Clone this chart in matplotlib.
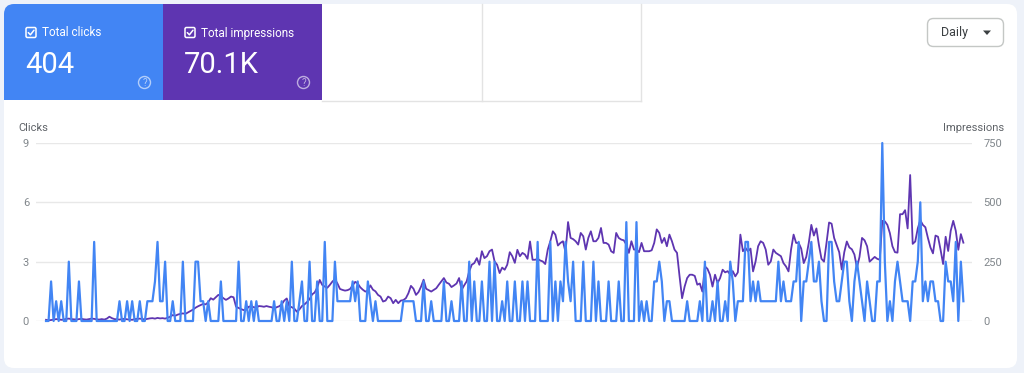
import numpy as np
import matplotlib.pyplot as plt
from matplotlib.patches import FancyBboxPatch, Rectangle, Circle, Polygon

plt.rcParams['font.family'] = ['Roboto', 'DejaVu Sans']

# daily clicks (about one year, oldest first)
clicks_q1 = [0, 0, 2, 0, 1, 0, 1, 0, 0, 3, 0, 0, 0, 2, 0, 0, 0, 0, 0, 4,
             0, 0, 0, 0, 0, 0, 0, 0, 0, 1, 0, 0, 1, 0, 1, 0, 0, 1, 0, 0,
             1, 1, 1, 2, 4, 1, 1, 3, 0, 0, 1, 0, 0, 0, 3, 0, 0, 0, 0, 3,
             3, 1, 1, 0, 1, 0, 0, 0, 0, 2, 0, 0, 0, 0, 0, 0, 3, 0, 0, 1,
             0, 1, 0, 1, 0, 0, 0, 0, 0, 0, 1, 0, 0, 1, 0, 1, 0, 3, 0, 0]
clicks_q2 = [1, 2, 0, 0, 3, 0, 0, 2, 0, 0, 4, 0, 0, 0, 3, 1, 1, 1, 1, 1,
             1, 2, 1, 2, 0, 0, 0, 2, 1, 0, 1, 0, 0, 0, 0, 0, 0, 0, 0, 0,
             0, 1, 1, 1, 1, 1, 0, 0, 0, 2, 0, 0, 1, 0, 0, 0, 0, 2, 0, 0,
             1, 0, 0, 0, 2, 0, 0, 3, 0, 2, 0, 0, 2, 0, 0, 3, 0, 3, 0, 0,
             1, 0, 2, 0, 0, 2, 0, 0, 2, 0, 2, 0, 0, 0, 4, 0, 0, 0, 0, 4]
clicks_q3 = [0, 2, 0, 2, 1, 4, 2, 1, 3, 0, 0, 0, 3, 0, 0, 0, 3, 0, 2, 0,
             0, 0, 2, 0, 0, 0, 2, 0, 0, 5, 0, 0, 0, 5, 0, 1, 0, 1, 0, 0,
             2, 2, 3, 2, 0, 1, 1, 0, 0, 0, 0, 0, 0, 1, 0, 0, 0, 0, 1, 0,
             3, 0, 0, 1, 0, 2, 0, 0, 1, 0, 3, 2, 0, 1, 1, 1, 4, 4, 1, 2,
             1, 2, 1, 1, 1, 1, 1, 1, 1, 3, 1, 2, 1, 1, 1, 2, 2, 4, 0, 2]
clicks_q4 = [2, 3, 4, 2, 2, 3, 1, 0, 0, 4, 4, 2, 1, 1, 2, 3, 3, 1, 0, 2,
             3, 2, 1, 0, 2, 1, 0, 0, 2, 2, 9, 3, 0, 1, 0, 2, 3, 2, 1, 1,
             1, 0, 2, 2, 3, 6, 1, 2, 1, 2, 2, 1, 1, 0, 0, 3, 2, 2, 1, 4,
             0, 3, 1]

# daily impressions, same days
impressions_q1 = [5, 3, 4, 6, 8, 7, 5, 6, 9, 10, 8, 7, 6, 8, 9, 7, 6, 8, 10, 9,
                  7, 6, 8, 6, 10, 18, 12, 8, 7, 6, 8, 9, 7, 6, 5, 8, 9, 10, 8, 7,
                  9, 11, 12, 10, 13, 11, 12, 10, 14, 18, 25, 22, 27, 30, 32, 30, 36, 42, 48, 56,
                  62, 67, 72, 70, 79, 96, 90, 100, 110, 105, 96, 89, 95, 103, 100, 60, 55, 50, 46, 48,
                  60, 62, 58, 56, 63, 62, 60, 63, 60, 58, 52, 58, 62, 70, 86, 95, 62, 58, 52, 39]
impressions_q2 = [49, 63, 70, 80, 92, 112, 120, 140, 173, 152, 145, 140, 152, 166, 176, 158, 135, 131, 128, 130,
                  135, 150, 165, 158, 142, 132, 124, 128, 150, 132, 125, 110, 103, 82, 86, 103, 96, 75, 89, 75,
                  86, 88, 96, 117, 148, 136, 110, 122, 145, 174, 136, 130, 124, 131, 138, 153, 167, 181, 162, 157,
                  143, 150, 158, 181, 131, 150, 167, 209, 237, 244, 265, 237, 294, 265, 273, 294, 301, 251, 237, 202,
                  225, 216, 237, 290, 273, 245, 300, 273, 287, 280, 262, 335, 258, 258, 262, 255, 251, 240, 301, 336]
impressions_q3 = [378, 364, 318, 329, 336, 290, 417, 350, 345, 336, 322, 371, 357, 301, 350, 378, 336, 336, 350, 392,
                  329, 329, 322, 294, 287, 371, 350, 343, 340, 322, 287, 336, 301, 301, 290, 329, 294, 294, 294, 298,
                  329, 386, 371, 329, 350, 315, 364, 336, 301, 287, 188, 96, 145, 181, 195, 195, 190, 153, 158, 124,
                  230, 220, 195, 145, 195, 160, 181, 216, 205, 210, 195, 210, 188, 205, 364, 294, 308, 294, 305, 209,
                  251, 315, 336, 329, 301, 237, 251, 301, 287, 280, 273, 244, 230, 209, 301, 364, 329, 329, 305, 244]
impressions_q4 = [270, 330, 405, 360, 390, 320, 262, 250, 330, 415, 410, 350, 320, 290, 217, 290, 335, 310, 302, 280,
                  225, 270, 350, 340, 315, 250, 260, 270, 262, 258, 422, 420, 405, 370, 315, 290, 288, 450, 450, 467,
                  390, 615, 325, 335, 390, 425, 405, 395, 350, 310, 285, 360, 355, 300, 240, 355, 295, 380, 422, 380,
                  300, 366, 330]

clicks = np.array(clicks_q1 + clicks_q2 + clicks_q3 + clicks_q4)
impressions = np.array(impressions_q1 + impressions_q2 + impressions_q3 + impressions_q4)
days = np.arange(len(clicks))

total_clicks = '404'
total_impressions = '70.1K'

BLUE = '#4285f4'
PURPLE = '#5e35b1'
GREY_TXT = '#5f6368'
TICK_TXT = '#80868b'

fig = plt.figure(figsize=(10.24, 3.73), dpi=100)
fig.patch.set_facecolor('#eef2f9')

# pixel space overlay for the card, tiles and button
bg = fig.add_axes([0, 0, 1, 1], zorder=0)
bg.set_xlim(0, 1024)
bg.set_ylim(373, 0)
bg.axis('off')

bg.add_patch(FancyBboxPatch((4, 4), 1013, 364, boxstyle='round,pad=0,rounding_size=10',
                            fc='white', ec='none'))

# summary tiles
bg.add_patch(FancyBboxPatch((4, 4), 159, 96, boxstyle='round,pad=0,rounding_size=10',
                            fc=BLUE, ec='none'))
bg.add_patch(Rectangle((20, 4), 143, 96, fc=BLUE, ec='none'))
bg.add_patch(Rectangle((4, 20), 159, 80, fc=BLUE, ec='none'))
bg.add_patch(Rectangle((163, 4), 159, 96, fc=PURPLE, ec='none'))
for xx in (481.5, 640.5):
    bg.plot([xx, xx], [4, 100.5], color='#e3e3e3', lw=1)
bg.plot([322, 640.5], [100.5, 100.5], color='#e3e3e3', lw=1)

for x0, title, value in [(0, 'Total clicks', total_clicks),
                         (159, 'Total impressions', total_impressions)]:
    # checkbox
    bg.add_patch(FancyBboxPatch((x0 + 26, 27.5), 10, 10,
                                boxstyle='round,pad=0,rounding_size=1.5',
                                fc='none', ec='white', lw=1.1))
    bg.plot([x0 + 28.3, x0 + 30.4, x0 + 34], [32.6, 34.8, 30.2], color='white', lw=1.1,
            solid_capstyle='round')
    bg.text(x0 + 42, 36.5, title, color='white', fontsize=8.5, va='baseline')
    bg.text(x0 + 25, 73, value, color='white', fontsize=21, va='baseline')
    # help icon
    bg.add_patch(Circle((x0 + 144.5, 82.5), 6, fc='none', ec='white', lw=1, alpha=0.6))
    bg.text(x0 + 144.6, 82.8, '?', color='white', alpha=0.6, fontsize=7,
            ha='center', va='center')

# Daily dropdown
bg.add_patch(FancyBboxPatch((927.5, 18.5), 76, 28, boxstyle='round,pad=0,rounding_size=6',
                            fc='white', ec='#c4c7c5', lw=1))
bg.text(941.5, 32.5, 'Daily', color='#3c4043', fontsize=9, va='center')
bg.add_patch(Polygon([(983, 30.5), (991, 30.5), (987, 35)], closed=True,
                     fc='#3c4043', ec='none'))

bg.text(18, 128, 'Clicks', color=GREY_TXT, fontsize=8, va='center')
bg.text(1004, 128, 'Impressions', color=GREY_TXT, fontsize=8, va='center', ha='right')

# chart
ax = fig.add_axes([36 / 1024, (373 - 321) / 373, (972 - 36) / 1024, 178 / 373], zorder=2)
ax2 = ax.twinx()
ax.set_zorder(ax2.get_zorder() + 1)
ax.patch.set_visible(False)
ax2.patch.set_visible(False)

ax2.plot(days, impressions, color=PURPLE, lw=1.3, clip_on=False, solid_joinstyle='round')
ax.plot(days, clicks, color=BLUE, lw=1.6, clip_on=False, solid_joinstyle='round')

ax.set_xlim(-3.95, 365.4)
ax.set_ylim(0, 9)
ax.set_yticks([0, 3, 6, 9])
ax2.set_ylim(0, 750)
ax2.set_yticks([0, 250, 500, 750])
ax2.grid(axis='y', color='#e8e8e8', lw=1)
ax2.set_axisbelow(True)

for a in (ax, ax2):
    for s in a.spines.values():
        s.set_visible(False)
    a.set_xticks([])
ax.tick_params(axis='y', length=0, labelsize=8, labelcolor=TICK_TXT, pad=5)
ax2.tick_params(axis='y', length=0, labelsize=8, labelcolor=TICK_TXT, pad=8)

fig.savefig('out.png', dpi=100, facecolor=fig.get_facecolor())
